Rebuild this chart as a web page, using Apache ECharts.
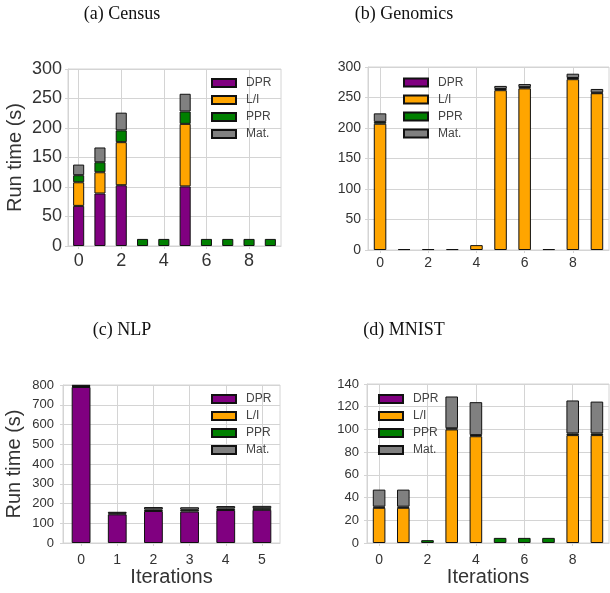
<!DOCTYPE html>
<html><head><meta charset="utf-8">
<script src="https://cdn.jsdelivr.net/npm/echarts@6/dist/echarts.min.js"></script>
<style>html,body{margin:0;padding:0;background:#fff}#c{width:610px;height:593px}</style>
</head><body><div id="c"></div>
<script>
// ---- data ----
const seriesNames = ['DPR', 'L/I', 'PPR', 'Mat.'];
const panelTitles = ['(a) Census', '(b) Genomics', '(c) NLP', '(d) MNIST'];
const iterations10 = ['0','1','2','3','4','5','6','7','8','9'];
const iterations6 = ['0','1','2','3','4','5'];

const censusDPR = [68, 89, 103, null, null, 101, null, null, null, null];
const censusLI  = [40, 36, 73, null, null, 106, null, null, null, null];
const censusPPR = [12, 17, 20, 12, 12, 21, 12, 12, 12, 12];
const censusMat = [18, 25, 30, null, null, 30, null, null, null, null];

const genomicsDPR = [null, null, null, null, null, null, null, null, null, null];
const genomicsLI  = [207, null, null, null, 8, 262, 265, null, 280, 257];
const genomicsPPR = [3, null, null, null, null, 2, 2, null, 2, 1];
const genomicsMat = [14, 1.5, 1.5, 1.5, null, 5, 5, 1.5, 7, 6];

const nlpDPR = [790, 145, 162, 159, 167, 168];
const nlpLI  = [null, null, null, null, null, null];
const nlpPPR = [4, 5, 8, 9, 8, 8];
const nlpMat = [7, 8, 12, 13, 12, 12];

const mnistDPR = [null, null, null, null, null, null, null, null, null, null];
const mnistLI  = [31, 31, null, 100, 94, null, null, null, 95, 95];
const mnistPPR = [1, 1, 2.5, 1, 1, 4.5, 4.5, 4.5, 1.5, 1.5];
const mnistMat = [15, 15, null, 28, 29, null, null, null, 29, 28];

const yMax = [300, 300, 800, 140];
const yStep = [50, 50, 100, 20];

// ---- layout / style ----
const colors = ['#800080', '#FFA500', '#008000', '#808080'];
const gridLine = '#d4d4d4';
const txt = '#333';
const SANS = '"Liberation Sans", Arial, sans-serif';
const panels = [
  { cats: iterations10, data: [censusDPR, censusLI, censusPPR, censusMat],
    grid: {left: 68, top: 69, width: 213, height: 177},
    yFont: 18, xFont: 18, yMargin: 6, xMargin: 6, yName: 'Run time (s)', nameGap: 43, xName: '',
    labelInt: 1, legend: {left: 211, top: 77}, title: [122, 14] },
  { cats: iterations10, data: [genomicsDPR, genomicsLI, genomicsPPR, genomicsMat],
    grid: {left: 368, top: 67, width: 241, height: 183},
    yFont: 14, xFont: 14, yMargin: 7, xMargin: 6, yName: '', nameGap: 0, xName: '',
    labelInt: 1, legend: {left: 403, top: 76.5}, title: [404, 14] },
  { cats: iterations6, data: [nlpDPR, nlpLI, nlpPPR, nlpMat],
    grid: {left: 63, top: 385, width: 217, height: 158},
    yFont: 13, xFont: 14, yMargin: 9, xMargin: 10, yName: 'Run time (s)', nameGap: 39, xName: 'Iterations',
    labelInt: 0, legend: {left: 211, top: 393}, title: [122, 330] },
  { cats: iterations10, data: [mnistDPR, mnistLI, mnistPPR, mnistMat],
    grid: {left: 367, top: 384, width: 242, height: 159},
    yFont: 13, xFont: 14, yMargin: 8, xMargin: 10, yName: '', nameGap: 0, xName: 'Iterations',
    labelInt: 1, legend: {left: 378, top: 393}, title: [404, 330] }
];

const option = {
  animation: false,
  textStyle: {fontFamily: SANS},
  grid: [], xAxis: [], yAxis: [], series: [], legend: [], graphic: []
};

panels.forEach((p, i) => {
  option.grid.push(Object.assign({show: true, borderColor: gridLine, borderWidth: 1, backgroundColor: '#fff'}, p.grid));
  option.xAxis.push({
    type: 'category', gridIndex: i, data: p.cats, boundaryGap: true,
    axisLine: {lineStyle: {color: gridLine}},
    axisTick: {show: true, alignWithLabel: true, interval: p.labelInt, length: 3, lineStyle: {color: gridLine}},
    axisLabel: {interval: p.labelInt, fontSize: p.xFont, fontFamily: SANS, color: txt, margin: p.xMargin},
    splitLine: {show: true, alignWithLabel: true, interval: p.labelInt, lineStyle: {color: gridLine, width: 1}},
    name: p.xName, nameLocation: 'middle', nameGap: 24,
    nameTextStyle: {fontSize: 20, fontFamily: SANS, color: txt}
  });
  option.yAxis.push({
    type: 'value', gridIndex: i, min: 0, max: yMax[i], interval: yStep[i],
    axisLine: {show: true, lineStyle: {color: gridLine}},
    axisTick: {show: true, length: 3, lineStyle: {color: gridLine}},
    axisLabel: {fontSize: p.yFont, fontFamily: SANS, color: txt, margin: p.yMargin},
    splitLine: {show: true, lineStyle: {color: gridLine, width: 1}},
    name: p.yName, nameLocation: 'middle', nameGap: p.nameGap,
    nameTextStyle: {fontSize: 20, fontFamily: SANS, color: txt}
  });
  seriesNames.forEach((n, k) => {
    option.series.push({
      type: 'bar', name: n, xAxisIndex: i, yAxisIndex: i, stack: 'p' + i,
      data: p.data[k], barWidth: '52%',
      itemStyle: {color: colors[k], borderColor: '#111', borderWidth: 1}
    });
  });
  option.legend.push({
    data: seriesNames, orient: 'vertical', left: p.legend.left, top: p.legend.top,
    padding: 0, itemWidth: 24, itemHeight: 8, itemGap: 5, icon: 'rect', selectedMode: false,
    textStyle: {fontSize: 12, fontFamily: SANS, color: '#444', lineHeight: 12, padding: [0, 0, 0, 5]}
  });
  option.graphic.push({
    type: 'text', x: p.title[0], y: p.title[1],
    style: {text: panelTitles[i], textAlign: 'center', textVerticalAlign: 'middle',
      font: '18px "Liberation Serif", "Times New Roman", serif', fill: '#111'}
  });
});

const chart = echarts.init(document.getElementById('c'), null, {renderer: 'canvas'});
chart.setOption(option);
</script></body></html>
